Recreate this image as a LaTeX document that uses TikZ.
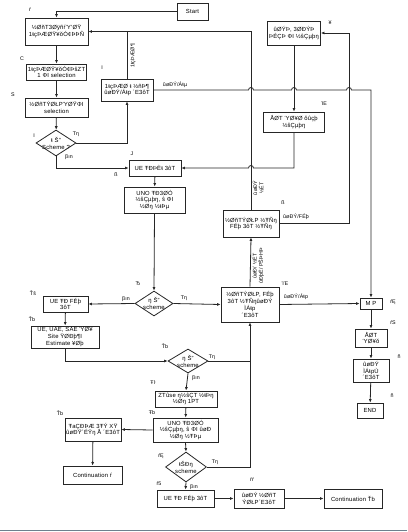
\documentclass[tikz,border=0pt]{standalone}
\usepackage{fontspec}
\setmainfont{Liberation Sans}[LetterSpace=3]
\usetikzlibrary{arrows.meta,shapes.geometric,calc}
\begin{document}
\begin{tikzpicture}[x=1pt,y=-1pt,
  font=\fontsize{5.9}{6.9}\selectfont,
  box/.style={draw=black!85, line width=0.9pt, align=center, inner sep=1pt},
  dia/.style={draw=black!85, line width=0.8pt, diamond, inner sep=0pt},
  ln/.style={line width=0.8pt, draw=black!85},
  arr/.style={ln, -{Latex[length=3.5pt,width=3pt]}},
  tag/.style={font=\fontsize{5.3}{6.2}\selectfont, inner sep=0.5pt, align=center},
]
\useasboundingbox (0,0) rectangle (407,532);
\fill[white] (0,0) rectangle (407,532);

% ---------- boxes ----------
\node[box, minimum width=31pt, minimum height=17pt] (start) at (192.5,11.5) {Start};
\node[box, minimum width=63pt, minimum height=27pt] (b1) at (56.5,31.5) {½ØñT3ØÿñŕΎ'ØŸ\\1ŧçÞÆØŸ¥ŏÓ¢ÞÞÑ};
\node[box, minimum width=59pt, minimum height=16pt] (b2) at (56.5,72) {1ŧçÞÆØŸ¥ŏÓ¢ÞŝZT\\1 ΦI selection};
\node[box, minimum width=63pt, minimum height=19pt] (b3) at (56.5,107.5) {½ØñTÝØŁPΎØŸΦI\\selection};
\node[dia, minimum width=40pt, minimum height=26pt] (d1) at (56,143) {};
\node[align=center, inner sep=0pt] at (d1) {ŧ Š”\\Scheme ?};
\node[box, minimum width=52pt, minimum height=22pt] (b4) at (127,90) {1ŧçÞÆØ ŧ ½ñÞ¶\\ûøÐÝ/Áŧp ´E3ôT};
\node[box, minimum width=53pt, minimum height=24pt] (bTop) at (294,33) {ûØÝÞ, 3ØÐÝÞ\\ÞÉÇÞ ΦI ½ŝÇµþŋ};
\node[box, minimum width=61pt, minimum height=20pt] (bDE) at (294,122) {ÅØT ΎØ¥Ø ŏûçþ\\½ŝÇµþŋ};
\node[box, minimum width=52pt, minimum height=16pt] (bJ) at (155,168) {UE ŦÐÞÈŧ 3ôT};
\node[box, minimum width=61pt, minimum height=26pt] (bU1) at (154.5,200) {UNO ŦÐ3ØÓ\\½ŝÇµþŋ, ŝ ΦI\\½Øŋ ½ŧÞµ};
\node[box, minimum width=56pt, minimum height=27pt] (b5) at (251,223.5) {½ØñTÝØŁP ½ŦÑŋ\\FÉþ 3ôT ½ŦÑŋ};
\node[dia, minimum width=38pt, minimum height=25pt] (d2) at (154,303.5) {};
\node[align=center, inner sep=0pt] at (d2) {ŋ Š”\\scheme};
\node[box, minimum width=45pt, minimum height=16pt] (bTs) at (65.5,304) {UE ŦÐ FÉþ\\3ôT};
\node[box, minimum width=68pt, minimum height=22pt] (bTb) at (65,337) {UE, UAE, SAE ΎØ¥\\Site ŸØÐþ¶I\\Estimate ¥Øþ};
\node[box, minimum width=58pt, minimum height=35pt] (b6) at (250,304.5) {½ØñTÝØŁP, FÉþ\\3ôT ½ŦÑŋûøÐÝ\\ÌÁŧp\\´E3ôT};
\node[box, minimum width=22pt, minimum height=11pt] (MP) at (371,303.5) {M P};
\node[box, minimum width=32pt, minimum height=18pt] (bS) at (371,338) {ÅØT\\ΎØ¥ŏ};
\node[box, minimum width=36pt, minimum height=23pt] (bN) at (371,370.5) {ûøÐÝ\\ÌÁŧpÙ\\´E3ôT};
\node[box, minimum width=26pt, minimum height=15pt] (END) at (370,410.5) {END};
\node[dia, minimum width=40pt, minimum height=24pt] (d3) at (188,361) {};
\node[align=center, inner sep=0pt] at (d3) {ŋ Š”\\scheme};
\node[box, minimum width=62pt, minimum height=16pt] (bZ) at (186,399) {ZTûse ŋ½ŝÇT ½ŧÞŋ\\½Øŋ 1PT};
\node[box, minimum width=65pt, minimum height=24pt] (bU2) at (185.5,430) {UNO ŦÐ3ØÓ\\½ŝÇµþŋ, ŝ ΦI ûøÐ\\½Øŋ ½ŦÞµ};
\node[box, minimum width=56pt, minimum height=23pt] (bTa) at (93,429.5) {ŦaÇÐÞÆ 3ŦÝ XŸ\\ûøÐŸ´ÉŸŋ Å ´E3ôT};
\node[box, minimum width=59pt, minimum height=18pt] (bC1) at (92.5,475) {Continuation ŕ};
\node[dia, minimum width=41pt, minimum height=30pt] (d4) at (186,467) {};
\node[align=center, inner sep=0pt] at (d4) {ŧŠÐŋ\\scheme};
\node[box, minimum width=57pt, minimum height=17pt] (bG5) at (185.5,498.5) {UE ŦÐ FÉþ 3ôT};
\node[box, minimum width=50pt, minimum height=19pt] (bff) at (259,498.5) {ûøÐÝ ½ØñT\\ÝØŁP´E3ôT};
\node[box, minimum width=58pt, minimum height=19pt] (bC2) at (353,498.5) {Continuation Ťb};

% ---------- node tags ----------
\node[tag] at (30,10) {ŕ};
\node[tag] at (22,59) {C};
\node[tag] at (13,95) {S};
\node[tag] at (34,136) {I};
\node[tag] at (102,68) {I};
\node[tag] at (330,23) {¥};
\node[tag] at (324,104) {ΊΕ};
\node[tag] at (132,154) {J};
\node[tag] at (116,175) {ß};
\node[tag] at (283,203) {ß};
\node[tag] at (285,284) {ΊΈ};
\node[tag] at (138,284) {Ђ};
\node[tag] at (33,293) {Ťš};
\node[tag] at (32,319) {Ťb};
\node[tag] at (165,346) {Ťb};
\node[tag] at (153,383) {Ŧŀ};
\node[tag] at (152,413) {Ŧb};
\node[tag] at (60,413) {Ťb};
\node[tag] at (161,456) {ŕĘ};
\node[tag] at (159,484) {ŕ5};
\node[tag] at (252,480) {ŕŕ};
\node[tag] at (393,302) {ŕĘ};
\node[tag] at (393,323) {ŕS};
\node[tag] at (399,357) {ñ};
\node[tag] at (392,396) {ñ};

% ---------- connectors ----------
\draw[arr] (start.west) -| (b1.north);
\draw[arr] (b1) -- (b2);
\draw[arr] (b2) -- (b3);
\draw[arr] (b3) -- (d1);
\draw[arr] (d1.east) -| (b4.south);
\draw[ln] (b4.north) -- (b4.north |- b1.east);
\draw[arr] (b5.north) -- (b5.north |- b1.east) -- (b1.east);
\draw[arr] (b4.east) -- (248.5,90) arc[start angle=180,end angle=0,radius=2.5pt]
  -- (291.5,90) arc[start angle=180,end angle=0,radius=2.5pt]
  -- (346.5,90) arc[start angle=180,end angle=0,radius=2.5pt]
  -- (371,90) -- (MP.north);
\draw[arr] (bTop.south) -- (bDE.north);
\draw[arr] (b5.east) -| (349,33) -- (bTop.east);
\draw[arr] (bDE.south) -- (294,168) -- (253.5,168) arc[start angle=0,end angle=180,radius=2.5pt] -- (bJ.east);
\draw[arr] (d1.south) |- (bJ.west);
\draw[arr] (bJ) -- (bU1);
\draw[arr] (bU1.south) -- (d2.north);
\draw[arr] (d2.west) -- (bTs.east);
\draw[arr] (d2.east) -- (b6.west);
\draw[arr] (b6.north) -- (b5.south);
\draw[arr] (b6.east) -- (MP.west);
\draw[arr] (MP) -- (bS);
\draw[arr] (bS) -- (bN);
\draw[arr] (bN) -- (END);
\draw[arr] (bTs) -- (bTb);
\draw[arr] (bTb.south) |- (d3.west);
\draw[ln] (d3.east) -- (d3.east -| b6.south);
\draw[arr] (d4.east) -| (b6.south);
\draw[arr] (d3.south) -- (bZ.north);
\draw[arr] (bZ) -- (bU2);
\draw[arr] (bU2.west) -- (bTa.east);
\draw[arr] (bTa) -- (bC1);
\draw[arr] (bU2.south) -- (d4.north);
\draw[arr] (d4.south) -- (bG5.north);
\draw[arr] (bG5) -- (bff);
\draw[arr] (bff) -- (bC2);

% ---------- connector labels ----------
\node[tag] at (76,134) {Tη};
\node[tag] at (69,157) {βın};
\node[tag, rotate=90] at (133,56) {1ŧçÞÆØ¶};
\node[tag] at (175,85) {ûøÐÝ/Áŧµ};
\node[tag, rotate=90] at (258,188) {ûøÐÝ\\½ÉT};
\node[tag] at (296,217) {ûøÐÝ/FÉþ};
\node[tag, rotate=90] at (258,266) {ûøÐ/ ½ÉT\\ûÐþÉ/ PŠÞHÞ};
\node[tag] at (296,297) {ûøÐÝ/Áŧp};
\node[tag] at (126,299) {βın};
\node[tag] at (184,298) {Tη};
\node[tag] at (212,357) {Tη};
\node[tag] at (196,378) {βın};
\node[tag] at (215,462) {Tη};
\node[tag] at (194,487) {βın};

% bottom rule
\draw[line width=1.2pt, draw={rgb,255:red,110;green,128;blue,142}] (0,530.5) -- (407,530.5);
\end{tikzpicture}
\end{document}
